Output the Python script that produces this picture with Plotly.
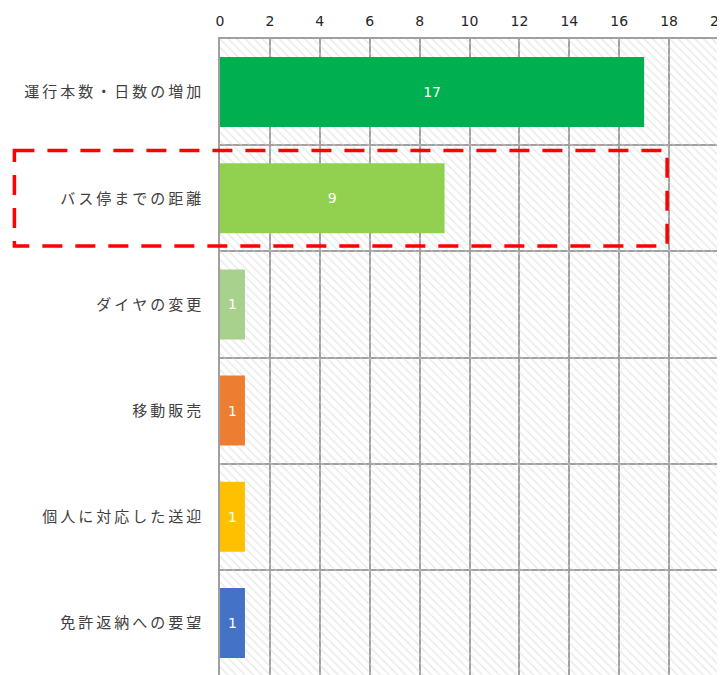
import plotly.graph_objects as go

# survey answers (count of responses)
categories = ['運行本数・日数の増加', 'バス停までの距離', 'ダイヤの変更',
              '移動販売', '個人に対応した送迎', '免許返納への要望']
values = [17, 9, 1, 1, 1, 1]
bar_colors = ['#00B050', '#92D050', '#A9D18E', '#ED7D31', '#FFC000', '#4472C4']
x_max = 20

# the reference font is widely spaced, so put a thin space between characters
tick_text = ['\u2009'.join(c) for c in categories]

fig = go.Figure()

# hatched plot background
fig.add_trace(go.Bar(
    y=categories, x=[x_max] * len(categories), orientation='h', width=1,
    marker=dict(color='rgba(0,0,0,0)', line_width=0,
                pattern=dict(shape='\\', fgcolor='#d4d4d4', bgcolor='rgba(0,0,0,0)',
                             size=6, solidity=0.25)),
    hoverinfo='skip', showlegend=False,
))

fig.add_trace(go.Bar(
    y=categories, x=values, orientation='h', width=0.66,
    marker=dict(color=bar_colors, line_width=0),
    text=values, textposition='inside', insidetextanchor='middle',
    textfont=dict(family='DejaVu Sans', color='white', size=14), showlegend=False,
))

# highlight box around the second answer
fig.add_shape(type='rect', xref='paper', yref='y',
              x0=-0.412, x1=0.896, y0=0.55, y1=1.45,
              line=dict(color='#FF0000', width=3.5, dash='20px,13px'),
              fillcolor='rgba(0,0,0,0)', layer='above')

fig.update_layout(
    width=725, height=675,
    margin=dict(l=212, r=13, t=30, b=5),
    barmode='overlay',
    uniformtext=dict(minsize=14, mode='show'),
    plot_bgcolor='white', paper_bgcolor='white',
    font=dict(family='Noto Sans CJK JP', size=13, color='#404040'),
)
fig.update_xaxes(side='top', range=[0, x_max], dtick=2, tick0=0,
                 showgrid=True, gridcolor='#a0a0a0', gridwidth=1.5,
                 showline=True, linecolor='#a0a0a0', linewidth=1.5, mirror=True,
                 zeroline=False, ticks='', ticklabelstandoff=6,
                 tickfont=dict(family='DejaVu Sans', size=14, color='#262626'),
                 fixedrange=True)
fig.update_yaxes(type='category', autorange='reversed', tickson='boundaries',
                 tickmode='array', tickvals=categories, ticktext=tick_text,
                 showgrid=True, gridcolor='#a0a0a0', gridwidth=1.5,
                 showline=True, linecolor='#a0a0a0', linewidth=1.5, mirror=True,
                 ticks='', ticklabelstandoff=14, tickfont=dict(size=15, color='#404040'),
                 fixedrange=True)

fig.write_html("out.html")
